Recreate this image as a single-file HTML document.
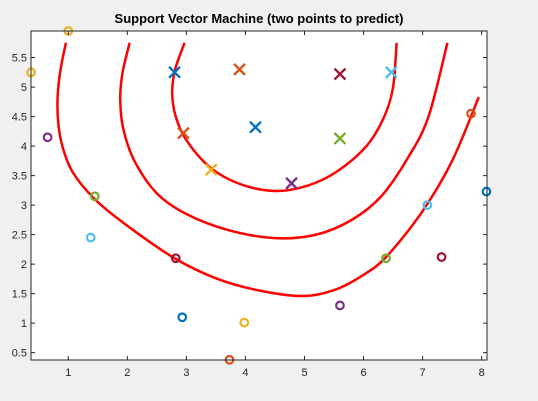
<!DOCTYPE html>
<html><head><meta charset="utf-8"><style>
body{margin:0;background:#f0f0f0;font-family:"Liberation Sans",Arial,sans-serif;}
svg{display:block}
</style></head><body>
<svg id="chart" width="538" height="401">
<rect x="0" y="0" width="538" height="401" fill="#f0f0f0"/>
<rect x="31" y="31" width="456" height="329" fill="#fff"/>
<text x="259" y="23" text-anchor="middle" font-size="13" font-weight="bold" fill="#000">Support Vector Machine (two points to predict)</text>
<g id="curves"></g><g id="marks"></g><g id="axes"></g>
</svg>
<script>
const xTicks=[1,2,3,4,5,6,7,8];
const yTicks=[0.5,1,1.5,2,2.5,3,3.5,4,4.5,5,5.5];
const circleX=[0.37,1.0,0.65,1.45,1.38,2.82,2.93,3.98,3.73,5.6,6.38,7.32,7.08,8.08,7.82];
const circleY=[5.25,5.95,4.15,3.15,2.45,2.1,1.1,1.01,0.38,1.3,2.1,2.12,3.0,3.23,4.55];
const circleC=["#EDB120","#EDB120","#7E2F8E","#77AC30","#4DBEEE","#A2142F","#0072BD","#EDB120","#D95319","#7E2F8E","#77AC30","#A2142F","#4DBEEE","#0072BD","#D95319"];
const crossX=[2.8,3.9,2.95,4.17,3.42,4.78,5.6,5.6,6.47];
const crossY=[5.25,5.3,4.22,4.32,3.6,3.37,5.22,4.13,5.25];
const crossC=["#0072BD","#D95319","#D95319","#0072BD","#EDB120","#7E2F8E","#A2142F","#77AC30","#4DBEEE"];
const outerX=[0.96,0.87,0.82,0.83,0.9,1.08,1.45,2.0,2.8,3.5,4.2,4.95,5.5,6.0,6.4,7.0,7.5,7.95];
const outerY=[5.75,5.3,4.84,4.4,4.0,3.55,3.1,2.65,2.1,1.76,1.56,1.46,1.56,1.82,2.14,2.9,3.75,4.83];
const midX=[2.04,1.92,1.88,1.93,2.12,2.5,3.0,3.7,4.5,5.2,5.8,6.3,6.75,7.1,7.42];
const midY=[5.75,5.25,4.8,4.3,3.75,3.2,2.85,2.58,2.44,2.5,2.75,3.15,3.8,4.5,5.75];
const innerX=[2.97,2.81,2.76,2.82,3.0,3.4,3.9,4.5,5.05,5.55,6.05,6.35,6.5,6.56];
const innerY=[5.75,5.3,4.9,4.5,4.1,3.64,3.36,3.24,3.33,3.57,4.0,4.5,5.0,5.75];
const X0=31,X1=487,Y0=360,Y1=31,xmin=0.369,xmax=8.09,ymin=0.376,ymax=5.95;
const sx=v=>X0+(v-xmin)/(xmax-xmin)*(X1-X0);
const sy=v=>Y0-(v-ymin)/(ymax-ymin)*(Y0-Y1);
const NS="http://www.w3.org/2000/svg";
function mk(t,a,p){const e=document.createElementNS(NS,t);for(const k in a)e.setAttribute(k,a[k]);p.appendChild(e);return e;}
function smooth(xs,ys){const p=xs.map((x,i)=>[sx(x),sy(ys[i])]);let d="M"+p[0][0]+","+p[0][1];
for(let i=0;i<p.length-1;i++){const a=p[Math.max(i-1,0)],b=p[i],c=p[i+1],e=p[Math.min(i+2,p.length-1)];
d+=" C"+(b[0]+(c[0]-a[0])/6)+","+(b[1]+(c[1]-a[1])/6)+" "+(c[0]-(e[0]-b[0])/6)+","+(c[1]-(e[1]-b[1])/6)+" "+c[0]+","+c[1];}return d;}
const cg=document.getElementById("curves");
[[outerX,outerY,"outer"],[midX,midY,"middle"],[innerX,innerY,"inner"]].forEach(([xs,ys,n])=>{
const el=mk("path",{d:smooth(xs,ys),fill:"none",stroke:"#ff0000","stroke-width":2.5,"stroke-linejoin":"round"},cg);

});
const mg=document.getElementById("marks");
circleX.forEach((x,i)=>{const el=mk("circle",{cx:sx(x),cy:sy(circleY[i]),r:3.8,fill:"none",stroke:circleC[i],"stroke-width":2.2},mg);

});
crossX.forEach((x,i)=>{const cx=sx(x),cy=sy(crossY[i]),s=5.5;
const el=mk("path",{d:`M${cx-s},${cy-s}L${cx+s},${cy+s}M${cx-s},${cy+s}L${cx+s},${cy-s}`,stroke:crossC[i],"stroke-width":2.4},mg);

});
const ag=document.getElementById("axes");
const box=mk("rect",{x:X0,y:Y1,width:X1-X0,height:Y0-Y1,fill:"none",stroke:"#262626","stroke-width":1},ag);


xTicks.forEach(t=>{const x=sx(t);
mk("path",{d:`M${x},${Y0}v-4M${x},${Y1}v4`,stroke:"#262626"},ag);
const l=mk("text",{x:x,y:Y0+16,"text-anchor":"middle","font-size":11,fill:"#262626"},ag);l.textContent=t;

});
yTicks.forEach(t=>{const y=sy(t);
mk("path",{d:`M${X0},${y}h4M${X1},${y}h-4`,stroke:"#262626"},ag);
const l=mk("text",{x:X0-4,y:y+4,"text-anchor":"end","font-size":11,fill:"#262626"},ag);l.textContent=t;

});
</script>
</body></html>
